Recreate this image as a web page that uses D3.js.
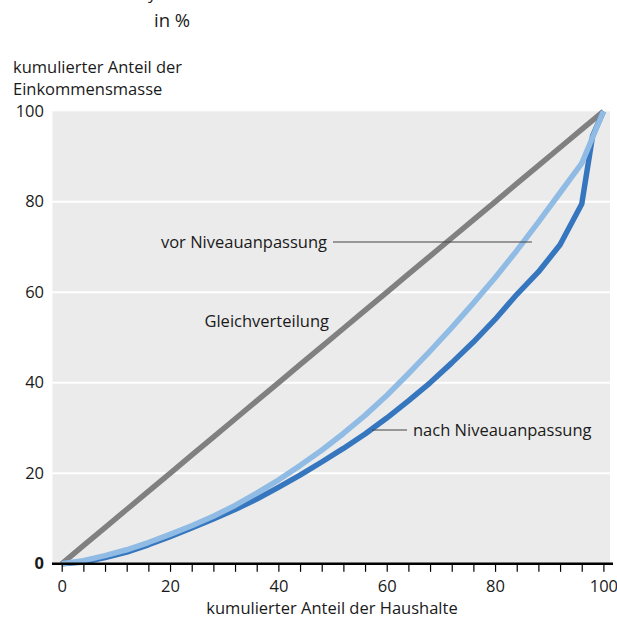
<!DOCTYPE html>
<html>
<head>
<meta charset="utf-8">
<script src="https://cdn.jsdelivr.net/npm/d3@7"></script>
<style>
  body { margin: 0; background: #fff; }
  text { font-family: "Open Sans", sans-serif; fill: #1a1a1a; }
</style>
</head>
<body>
<div id="chart"></div>
<script>
// data (cumulative share of households / income, in %)
const households = [0, 4, 8, 12, 16, 20, 24, 28, 32, 36, 40, 44, 48, 52, 56, 60, 64, 68, 72, 76, 80, 84, 88, 92, 96, 98, 100];
const equality = households.slice();
const beforeAdj = [0, 0.7, 1.8, 3.1, 4.7, 6.5, 8.4, 10.5, 12.9, 15.6, 18.5, 21.7, 25.1, 28.8, 32.8, 37.2, 42.0, 47.0, 52.2, 57.6, 63.2, 69.2, 75.5, 82.0, 88.5, 94.2, 100];
const afterAdj = [0, 0.4, 1.4, 2.6, 4.2, 6.0, 7.9, 9.9, 12.0, 14.3, 16.9, 19.6, 22.5, 25.5, 28.7, 32.2, 36.0, 40.0, 44.4, 49.0, 54.0, 59.5, 64.5, 70.5, 79.5, 94.5, 100];
const xTicks = d3.range(0, 101, 4);
const xLabels = [0, 20, 40, 60, 80, 100];
const yLabels = [0, 20, 40, 60, 80, 100];

const width = 617;
const height = 618;
const fontSize = "16.5px";

const svg = d3.select("#chart")
  .append("svg")
  .attr("width", width)
  .attr("height", height);

const xScale = d3.scaleLinear().domain([0, 100]).range([61.7, 603.4]);
const yScale = d3.scaleLinear().domain([0, 100]).range([563.8, 111.3]);

/**
 * Titles
 */
svg.append("text").attr("x", 148).attr("y", -1).style("font-size", "17px").text("y");
svg.append("text").attr("x", 154).attr("y", 27).style("font-size", "18.5px").text("in %");
svg.append("text").attr("x", 13).attr("y", 73).style("font-size", fontSize).text("kumulierter Anteil der");
svg.append("text").attr("x", 13).attr("y", 95).style("font-size", fontSize).text("Einkommensmasse");

/**
 * Plot background + grid
 */
svg.append("rect")
  .attr("x", 52.5)
  .attr("y", yScale(100))
  .attr("width", 610 - 52.5)
  .attr("height", yScale(0) - yScale(100))
  .attr("fill", "#ebebeb");

svg.selectAll(".grid")
  .data([20, 40, 60, 80])
  .enter()
  .append("line")
  .attr("class", "grid")
  .attr("x1", 52.5)
  .attr("x2", 610)
  .attr("y1", d => yScale(d))
  .attr("y2", d => yScale(d))
  .attr("stroke", "#fff")
  .attr("stroke-width", 2);

svg.selectAll(".y-label")
  .data(yLabels)
  .enter()
  .append("text")
  .attr("class", "y-label")
  .attr("x", 44)
  .attr("y", d => yScale(d) + 5.5)
  .attr("text-anchor", "end")
  .style("font-size", fontSize)
  .style("font-weight", d => d === 0 ? "bold" : "normal")
  .text(d => d);

/**
 * Lines
 */
const line = d3.line()
  .x((d, i) => xScale(households[i]))
  .y(d => yScale(d));

const series = [
  { values: equality, color: "#808080" },
  { values: afterAdj, color: "#3676be" },
  { values: beforeAdj, color: "#8fbbe4" }
];

svg.selectAll(".curve")
  .data(series)
  .enter()
  .append("path")
  .attr("class", "curve")
  .attr("d", d => line(d.values))
  .attr("fill", "none")
  .attr("stroke", d => d.color)
  .attr("stroke-width", 5.5)
  .attr("stroke-linejoin", "round");

/**
 * X axis
 */
const xAxis = d3.axisBottom(xScale)
  .tickValues(xTicks)
  .tickSize(8)
  .tickPadding(8)
  .tickFormat(d => xLabels.includes(d) ? d : "");

const gx = svg.append("g")
  .attr("transform", "translate(0," + yScale(0) + ")")
  .call(xAxis);
gx.select(".domain").remove();
gx.selectAll(".tick line").attr("stroke", "#000").attr("stroke-width", 1.2);
gx.selectAll(".tick text")
  .style("font-size", fontSize)
  .style("font-family", "'Open Sans', sans-serif")
  .attr("fill", "#1a1a1a");

svg.append("line")
  .attr("x1", 52)
  .attr("x2", 613)
  .attr("y1", yScale(0))
  .attr("y2", yScale(0))
  .attr("stroke", "#000")
  .attr("stroke-width", 2.5);

svg.append("text")
  .attr("x", 332)
  .attr("y", 614)
  .attr("text-anchor", "middle")
  .style("font-size", fontSize)
  .text("kumulierter Anteil der Haushalte");

/**
 * Annotations
 */
svg.append("text").attr("x", 327).attr("y", 248).attr("text-anchor", "end")
  .style("font-size", fontSize).text("vor Niveauanpassung");
svg.append("line").attr("x1", 333).attr("x2", xScale(86.8)).attr("y1", 242).attr("y2", 242)
  .attr("stroke", "#444").attr("stroke-width", 1.2);

svg.append("text").attr("x", 329).attr("y", 327).attr("text-anchor", "end")
  .style("font-size", fontSize).text("Gleichverteilung");

svg.append("text").attr("x", 413).attr("y", 436)
  .style("font-size", fontSize).text("nach Niveauanpassung");
svg.append("line").attr("x1", xScale(57.3)).attr("x2", 407).attr("y1", 430).attr("y2", 430)
  .attr("stroke", "#444").attr("stroke-width", 1.2);
</script>
</body>
</html>
